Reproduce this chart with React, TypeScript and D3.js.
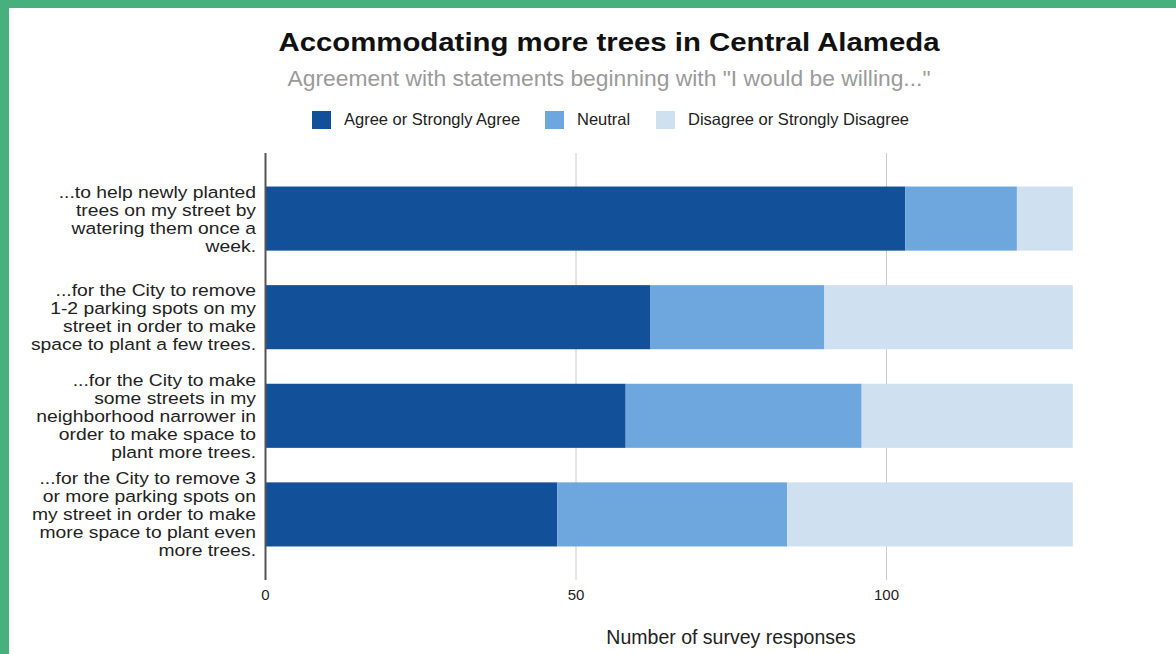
import React, { useEffect, useRef } from "react";
import * as d3 from "d3";

const categories: string[][] = [
  ["...to help newly planted", "trees on my street by", "watering them once a", "week."],
  ["...for the City to remove", "1-2 parking spots on my", "street in order to make", "space to plant a few trees."],
  ["...for the City to make", "some streets in my", "neighborhood narrower in", "order to make space to", "plant more trees."],
  ["...for the City to remove 3", "or more parking spots on", "my street in order to make", "more space to plant even", "more trees."],
];
const seriesNames = ["Agree or Strongly Agree", "Neutral", "Disagree or Strongly Disagree"];
const agree = [103, 62, 58, 47];
const neutral = [18, 28, 38, 37];
const disagree = [9, 40, 34, 46];
const xTicks = [0, 50, 100];
const colors = ["#12509a", "#6ea7dd", "#cfe0f1"];

const W = 1176;
const H = 654;
const FONT = "'Liberation Sans', Arial, sans-serif";

export default function App() {
  const ref = useRef<SVGSVGElement>(null);

  useEffect(() => {
    const svg = d3.select(ref.current);
    svg.selectAll("*").remove();

    // green frame + white panel
    svg.append("rect").attr("x", 0).attr("y", 0).attr("width", W).attr("height", H).attr("fill", "#48b07c");
    svg.append("rect").attr("x", 9).attr("y", 8).attr("width", W - 9).attr("height", H - 8).attr("fill", "#ffffff");

    const x = d3.scaleLinear().domain([0, 100]).range([265.5, 886.5]);
    const y = d3
      .scaleBand<number>()
      .domain(d3.range(categories.length))
      .range([153, 580])
      .paddingInner(0.35)
      .paddingOuter(0.34);

    // title
    svg.append("text").attr("x", 609).attr("y", 51).attr("text-anchor", "middle")
      .attr("font-family", FONT).attr("font-weight", "bold").attr("font-size", 26).attr("fill", "#111")
      .attr("textLength", 661).attr("lengthAdjust", "spacingAndGlyphs")
      .text("Accommodating more trees in Central Alameda");
    svg.append("text").attr("x", 609).attr("y", 86).attr("text-anchor", "middle")
      .attr("font-family", FONT).attr("font-size", 21.5).attr("fill", "#9a9a9a")
      .attr("textLength", 643).attr("lengthAdjust", "spacingAndGlyphs")
      .text('Agreement with statements beginning with "I would be willing..."');

    // legend
    const legendX = [312, 545, 656];
    seriesNames.forEach((n, i) => {
      svg.append("rect").attr("x", legendX[i]).attr("y", 111).attr("width", 19).attr("height", 18).attr("fill", colors[i]);
      svg.append("text").attr("x", legendX[i] + 32).attr("y", 125)
        .attr("font-family", FONT).attr("font-size", 16.5).attr("fill", "#222").text(n);
    });

    // gridlines
    svg.append("g").selectAll("line").data(xTicks.filter((t) => t > 0)).join("line")
      .attr("x1", (d) => x(d)).attr("x2", (d) => x(d)).attr("y1", 153).attr("y2", 580)
      .attr("stroke", "#cccccc").attr("stroke-width", 1);

    // stacked bars
    const rows = categories.map((_, i) => ({ i, a: agree[i], n: neutral[i], d: disagree[i] }));
    const stack = d3.stack<any>().keys(["a", "n", "d"])(rows);
    stack.forEach((layer, k) => {
      svg.append("g").selectAll("rect").data(layer).join("rect")
        .attr("x", (d) => x(d[0]))
        .attr("width", (d) => x(d[1]) - x(d[0]))
        .attr("y", (d) => y(d.data.i)!)
        .attr("height", y.bandwidth())
        .attr("fill", colors[k]);
    });

    // axis line
    svg.append("line").attr("x1", x(0)).attr("x2", x(0)).attr("y1", 153).attr("y2", 580)
      .attr("stroke", "#555").attr("stroke-width", 2);

    // tick labels
    svg.append("g").selectAll("text").data(xTicks).join("text")
      .attr("x", (d) => x(d)).attr("y", 600).attr("text-anchor", "middle")
      .attr("font-family", FONT).attr("font-size", 15).attr("fill", "#222").text((d) => d);

    // axis title
    svg.append("text").attr("x", 731).attr("y", 644).attr("text-anchor", "middle")
      .attr("font-family", FONT).attr("font-size", 19.5).attr("fill", "#222").text("Number of survey responses");

    // category labels (slightly wide glyphs, tight leading as in the reference)
    const lh = 18;
    categories.forEach((lines, i) => {
      const cy = y(i)! + y.bandwidth() / 2;
      const g = svg.append("g").attr("transform", `translate(256,0) scale(1.17,1)`);
      const t = g.append("text").attr("text-anchor", "end").attr("font-family", FONT)
        .attr("font-size", 16.5).attr("fill", "#222");
      lines.forEach((l, j) => {
        t.append("tspan").attr("x", 0)
          .attr("y", cy + (j - (lines.length - 1) / 2) * lh + 6).text(l);
      });
    });
  }, []);

  return (
    <div style={{ position: "fixed", left: 0, top: 0, width: W, height: H }}>
      <svg ref={ref} width={W} height={H} style={{ display: "block" }} />
    </div>
  );
}
